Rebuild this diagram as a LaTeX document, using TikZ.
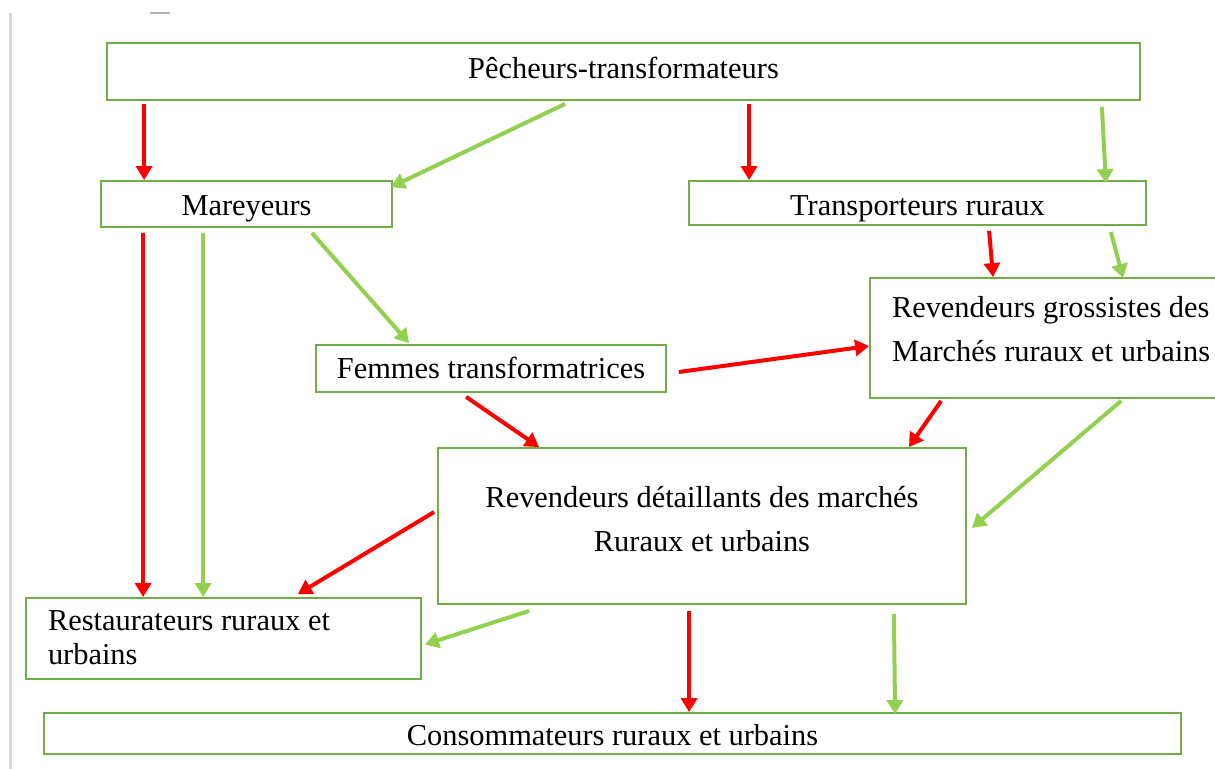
\documentclass[tikz,border=0pt]{standalone}
\usepackage{fontspec}
\setmainfont{Liberation Serif}
\usepackage{tikz}
\usetikzlibrary{positioning, arrows.meta, calc}
\definecolor{cadrevert}{RGB}{112,173,71}
\definecolor{flechevert}{RGB}{146,208,80}
\definecolor{flecherouge}{RGB}{255,0,0}
\definecolor{bordgris}{RGB}{214,214,214}

\tikzset{
    boite/.style={rectangle, draw=cadrevert, line width=0.9pt, inner sep=0pt,
                  font=\fontsize{15.2pt}{18pt}\selectfont, text height=12.5pt, text depth=1pt},
    fl rouge/.style={draw=flecherouge, line width=2pt, -{Triangle[width=8pt, length=7pt]}},
    fl vert/.style={draw=flechevert, line width=2pt, -{Triangle[width=8pt, length=7pt]}}
}

\begin{document}
\begin{tikzpicture}[x=0.5pt, y=-0.5pt]
    \useasboundingbox (0,0) rectangle (1215,769);
    \clip (0,0) rectangle (1215,769);

    % Bord de page
    \draw[bordgris, line width=1.5pt] (10,13) -- (10,769);
    \draw[gray!60, line width=0.6pt] (150,13) -- (170,13);

    % Acteurs de la filière
    \node[boite, minimum width=516.5pt, minimum height=28.5pt, text height=8pt] (pech) at (623.5,71.5) {Pêcheurs-transformateurs};
    \node[boite, minimum width=145.5pt, minimum height=23pt] (mar) at (246.5,204) {Mareyeurs};
    \node[boite, minimum width=228.5pt, minimum height=22pt, text height=13.5pt] (transp) at (917.5,203) {Transporteurs ruraux};
    \node[boite, minimum width=175pt, minimum height=23.5pt, text height=11pt] (femmes) at (491,368.5) {Femmes transformatrices};
    \node[boite, minimum width=192pt, minimum height=60pt, inner xsep=11pt, text width=170pt, align=flush left,
          font=\fontsize{15.2pt}{22pt}\selectfont, text height=10pt, text depth=30pt] (gros) at (1062,338)
          {Revendeurs grossistes des\\Marchés ruraux et urbains};
    \node[boite, minimum width=264pt, minimum height=78pt, text width=250pt, align=flush center,
          font=\fontsize{15.2pt}{22pt}\selectfont, text height=10pt, text depth=28pt] (det) at (702,526)
          {Revendeurs détaillants des marchés\\Ruraux et urbains};
    \node[boite, minimum width=197.5pt, minimum height=40.5pt, inner xsep=11pt, text width=175.5pt, align=flush left,
          font=\fontsize{15.2pt}{17pt}\selectfont, text height=10pt, text depth=17.5pt] (rest) at (223.5,638.5)
          {Restaurateurs ruraux et\\urbains};
    \node[boite, minimum width=568.5pt, minimum height=20.5pt] (conso) at (612.5,733.5) {Consommateurs ruraux et urbains};

    % Flux en rouge
    \draw[fl rouge] ($(pech.south west)+(38,3)$) -- ($(mar.north west)+(44,0)$);
    \draw[fl rouge] ($(pech.south west)+(643,3)$) -- ($(transp.north west)+(61,0)$);
    \draw[fl rouge] ($(mar.south west)+(43,5)$) -- ($(rest.north west)+(118,0)$);
    \draw[fl rouge] ($(transp.south west)+(301,5)$) -- ($(gros.north west)+(124,0)$);
    \draw[fl rouge] ($(femmes.east)+(12,3.5)$) -- ($(gros.west)+(0,8)$);
    \draw[fl rouge] ($(femmes.south west)+(151,4)$) -- ($(det.north west)+(102,0)$);
    \draw[fl rouge] ($(gros.south west)+(72,2)$) -- ($(det.north east)+(-58,0)$);
    \draw[fl rouge] ($(det.west)+(-3,-14)$) -- ($(rest.north east)+(-124,-3)$);
    \draw[fl rouge] ($(det.south west)+(252,6)$) -- ($(conso.north west)+(646,0)$);

    % Flux en vert
    \draw[fl vert] ($(pech.south west)+(459,3)$) -- ($(mar.north east)+(-2,7)$);
    \draw[fl vert] ($(pech.south east)+(-39,6)$) -- ($(transp.north east)+(-41,3)$);
    \draw[fl vert] ($(mar.south west)+(103,5)$) -- ($(rest.north west)+(178,0)$);
    \draw[fl vert] ($(mar.south east)+(-81,5)$) -- ($(femmes.north west)+(94,-1)$);
    \draw[fl vert] ($(transp.south east)+(-36,6)$) -- ($(gros.north west)+(254,1)$);
    \draw[fl vert] ($(gros.south west)+(252,2)$) -- ($(det.east)+(5,2)$);
    \draw[fl vert] ($(det.south west)+(92,6)$) -- ($(rest.east)+(3,6)$);
    \draw[fl vert] ($(det.south east)+(-73,9)$) -- ($(conso.north west)+(852,2)$);
\end{tikzpicture}
\end{document}
